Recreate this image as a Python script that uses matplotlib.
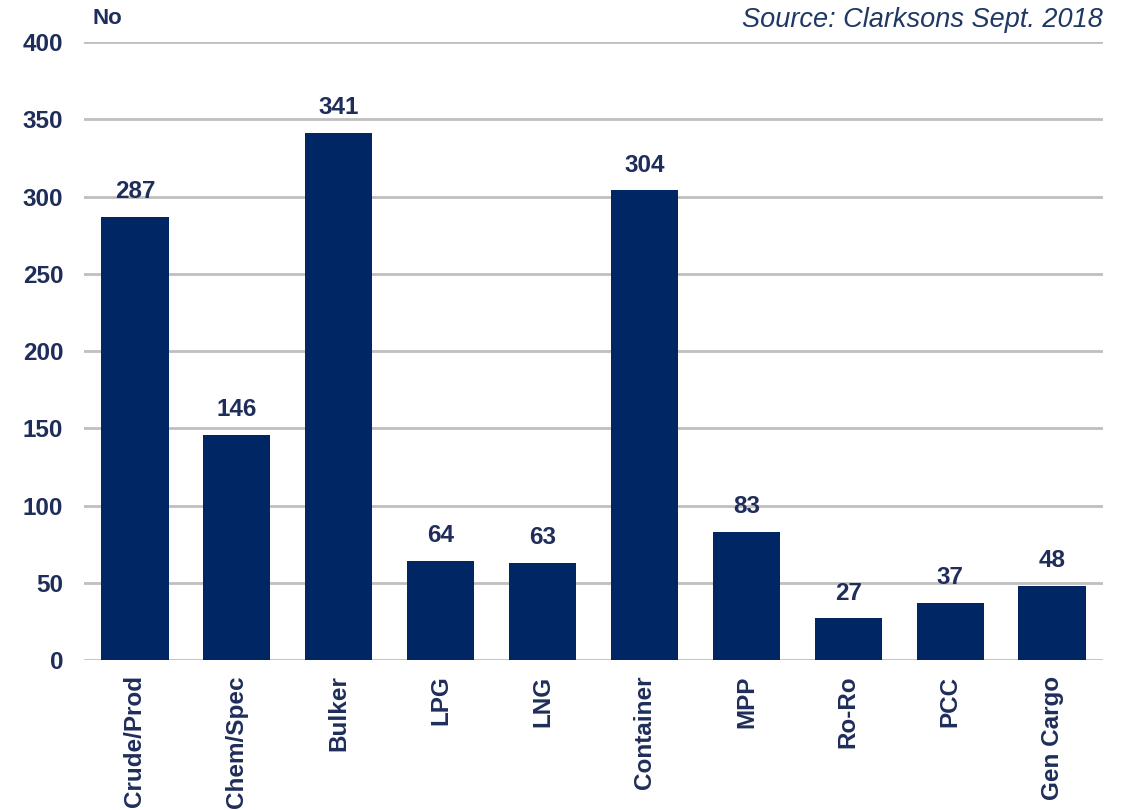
import matplotlib
matplotlib.use("Agg")
import matplotlib.pyplot as plt

categories = ["Crude/Prod", "Chem/Spec", "Bulker", "LPG", "LNG", "Container",
              "MPP", "Ro-Ro", "PCC", "Gen Cargo"]
values = [287, 146, 341, 64, 63, 304, 83, 27, 37, 48]
yticks = [0, 50, 100, 150, 200, 250, 300, 350, 400]

bar_color = "#002663"
text_color = "#1F2D5A"
grid_color = "#BFBFBF"

plt.rcParams['font.family'] = ['Liberation Sans', 'DejaVu Sans']

fig = plt.figure(figsize=(11.21, 8.10), dpi=100)
ax = fig.add_axes([0.0749, 0.185, 0.9091, 0.763])

x = list(range(len(categories)))
bars = ax.bar(x, values, width=0.66, color=bar_color, zorder=3)

ax.set_xlim(-0.5, len(categories) - 0.5)
ax.set_ylim(0, 400)
ax.set_yticks(yticks)
ax.set_yticklabels([str(t) for t in yticks], fontsize=17.5, fontweight='bold', color=text_color)
ax.set_xticks(x)
ax.set_xticklabels(categories, rotation=90, fontsize=17.5, fontweight='bold',
                   color=text_color, va='top', ha='center')
ax.tick_params(axis='both', length=0)
ax.tick_params(axis='y', pad=15)
ax.tick_params(axis='x', pad=11)

ax.yaxis.grid(True, color=grid_color, linewidth=2, zorder=0)
ax.set_axisbelow(True)
for s in ['top', 'right', 'left', 'bottom']:
    ax.spines[s].set_visible(False)

for xi, v in zip(x, values):
    ax.annotate(str(v), (xi, v), xytext=(0, 10), textcoords='offset points',
                ha='center', va='bottom', fontsize=17.5, fontweight='bold', color=text_color)

fig.text(92 / 1121, 1 - 18 / 810, "No", fontsize=16, fontweight='bold',
         color=text_color, ha='left', va='center')
fig.text(1103 / 1121, 1 - 20 / 810, "Source: Clarksons Sept. 2018", fontsize=19.5,
         fontstyle='italic', color="#1F3864", ha='right', va='center')

fig.savefig("out.png", dpi=100)
